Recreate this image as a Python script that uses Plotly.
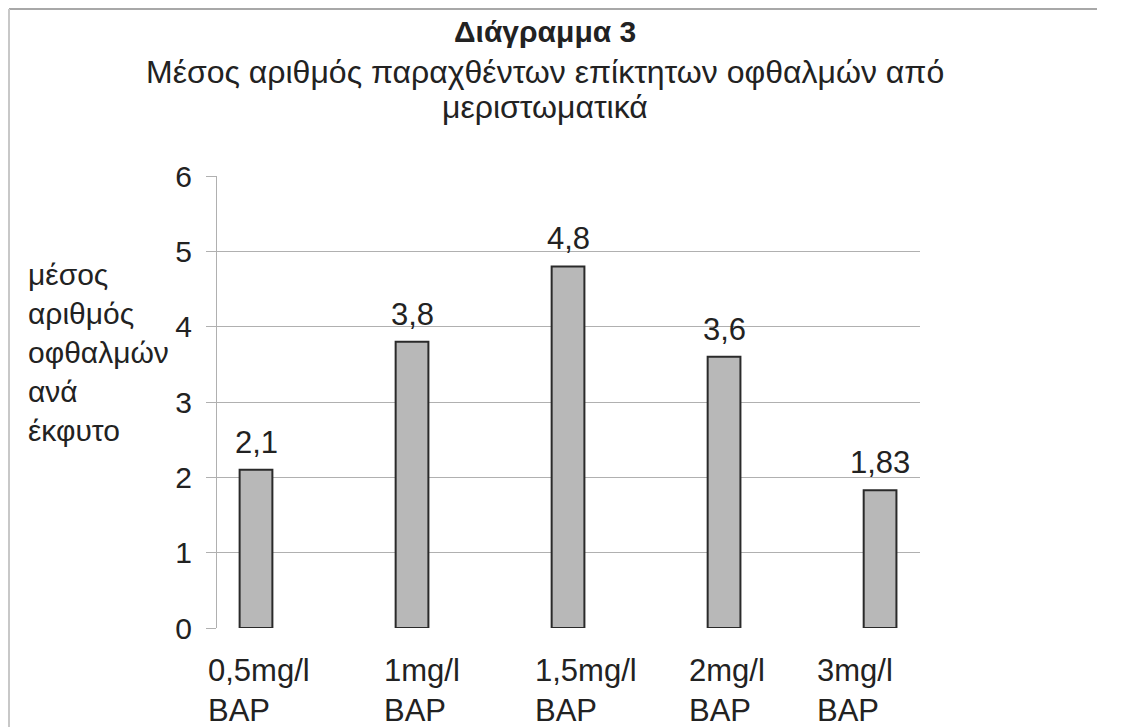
import plotly.graph_objects as go

# ---- data ----
categories = ["0,5mg/l<br>BAP", "1mg/l<br>BAP", "1,5mg/l<br>BAP", "2mg/l<br>BAP", "3mg/l<br>BAP"]
values = [2.1, 3.8, 4.8, 3.6, 1.83]
y_ticks = [0, 1, 2, 3, 4, 5, 6]
title_main = "Διάγραμμα 3"
title_line1 = "Μέσος αριθμός παραχθέντων επίκτητων οφθαλμών από"
title_line2 = "μεριστωματικά"
y_title = "μέσος<br>αριθμός<br>οφθαλμών<br>ανά<br>έκφυτο"

# ---- styling ----
OFF = 8  # page body margin
W, H = 1127 - OFF, 727 - OFF
# plot area in page pixels: x 217..920, y 176..628
PL, PR, PT, PB = 217, 920, 176, 628
L, T = PL - OFF, PT - OFF
R, B = W - (PR - OFF), H - (PB - OFF)
PW, PH = PR - PL, PB - PT
FONT = "Liberation Sans, Arial, sans-serif"
TXT = "#222222"
label_xshift = [3, 10, 18, 3, -25]


def px_x(px):  # page x -> paper
    return (px - PL) / PW


def px_y(py):  # page y -> paper
    return (PB - py) / PH


xs = list(range(len(categories)))

fig = go.Figure()
fig.add_trace(go.Bar(
    x=xs, y=values,
    marker=dict(color="#b8b8b8", line=dict(color="#2a2a2a", width=2)),
    width=0.21,
    hoverinfo="skip",
))

annotations = []
# value labels
for xi, v in zip(xs, values):
    annotations.append(dict(
        x=xi, y=v, xref="x", yref="y", text=str(v).replace(".", ","),
        showarrow=False, yanchor="bottom", yshift=8,
        font=dict(family=FONT, size=31, color=TXT)))
# category labels (left aligned lines)
for xi, c, sh in zip(xs, categories, label_xshift):
    annotations.append(dict(
        x=xi, y=px_y(690), xref="x", yref="paper", text=c, align="left",
        showarrow=False, xanchor="center", yanchor="middle", xshift=sh,
        font=dict(family=FONT, size=31, color=TXT)))
# titles
annotations.append(dict(x=px_x(545), y=px_y(13), xref="paper", yref="paper",
                        text="<b>" + title_main + "</b>", showarrow=False,
                        font=dict(family=FONT, size=30, color=TXT)))
annotations.append(dict(x=px_x(545), y=px_y(52), xref="paper", yref="paper",
                        text=title_line1, showarrow=False,
                        font=dict(family=FONT, size=32, color=TXT)))
annotations.append(dict(x=px_x(545), y=px_y(87), xref="paper", yref="paper",
                        text=title_line2, showarrow=False,
                        font=dict(family=FONT, size=32, color=TXT)))
# y-axis title
annotations.append(dict(x=px_x(26), y=px_y(352), xref="paper", yref="paper",
                        text=y_title, showarrow=False, align="left",
                        xanchor="left", yanchor="middle",
                        font=dict(family=FONT, size=30, color=TXT)))

shapes = [
    dict(type="line", xref="paper", yref="paper",
         x0=px_x(9), x1=px_x(1097), y0=px_y(9), y1=px_y(9),
         line=dict(color="#a8a8a8", width=2)),
    dict(type="line", xref="paper", yref="paper",
         x0=px_x(9), x1=px_x(9), y0=px_y(9), y1=px_y(727),
         line=dict(color="#c8c8c8", width=2)),
]

fig.update_layout(
    width=W, height=H,
    margin=dict(l=L, r=R, t=T, b=B, pad=0),
    paper_bgcolor="white", plot_bgcolor="white",
    showlegend=False,
    annotations=annotations,
    shapes=shapes,
    bargap=0.79,
    xaxis=dict(range=[-0.25, 4.256], showticklabels=False, showgrid=False,
               zeroline=False, showline=False, ticks="", fixedrange=True),
    yaxis=dict(range=[0, 6], tickvals=y_ticks, ticktext=[str(t) for t in y_ticks],
               showgrid=True, gridcolor="#b0b0b0", gridwidth=1,
               zeroline=False, showline=True, linecolor="#b0b0b0", linewidth=1,
               ticks="outside", ticklen=10, tickcolor="#b0b0b0",
               ticklabelstandoff=8,
               tickfont=dict(family=FONT, size=30, color=TXT),
               fixedrange=True),
)

fig.write_html("out.html")
